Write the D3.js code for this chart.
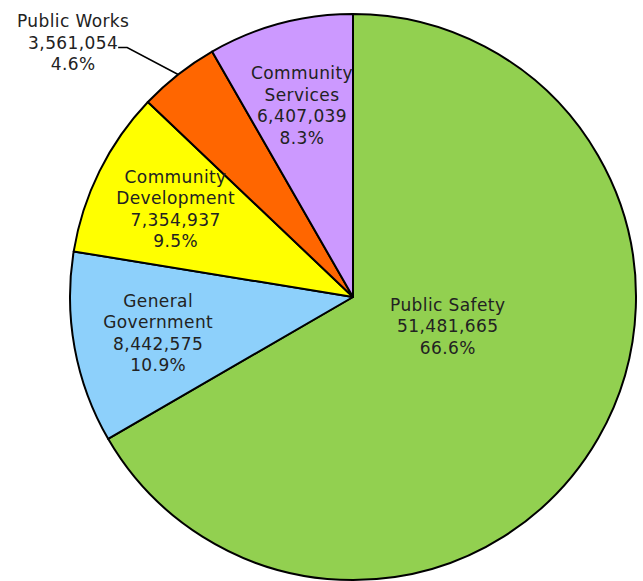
<!DOCTYPE html>
<html>
<head>
<meta charset="utf-8" />
<title>Budget by Department</title>
<script src="https://d3js.org/d3.v7.min.js"></script>
<style>
  body { margin: 0; background: #fff; }
  text { font-family: "DejaVu Sans", sans-serif; font-size: 17px; letter-spacing: 0.4px; fill: #222; }
</style>
</head>
<body>
<div id="chart"></div>
<script>
  // data, clockwise from 12 o'clock
  var departments = ["Public Safety", "General Government", "Community Development", "Public Works", "Community Services"];
  var labelLines = [["Public Safety"], ["General", "Government"], ["Community", "Development"], ["Public Works"], ["Community", "Services"]];
  var amounts = [51481665, 8442575, 7354937, 3561054, 6407039];
  var colors = ["#92d050", "#8dd0fb", "#ffff00", "#ff6600", "#cc99ff"];

  var width = 643, height = 581;
  var cx = 353, cy = 297, radius = 283;
  var lineH = 21.5;

  var svg = d3.select("#chart").append("svg")
    .attr("width", width)
    .attr("height", height);

  var g = svg.append("g").attr("transform", "translate(" + cx + "," + cy + ")");

  var total = d3.sum(amounts);
  var rows = departments.map(function (d, i) {
    return { name: d, lines: labelLines[i], value: amounts[i], color: colors[i] };
  });

  var pie = d3.pie().sort(null).value(function (d) { return d.value; });
  var arc = d3.arc().innerRadius(0).outerRadius(radius);
  var arcs = pie(rows);

  g.selectAll("path.slice")
    .data(arcs)
    .enter()
    .append("path")
    .attr("class", "slice")
    .attr("d", arc)
    .attr("fill", function (d) { return d.data.color; })
    .attr("stroke", "#000")
    .attr("stroke-width", 2)
    .attr("stroke-linejoin", "round");

  var fmt = d3.format(",");
  function pct(v) { return (v / total * 100).toFixed(1) + "%"; }

  // where the label block sits: polar (angle in degrees, fraction of radius)
  function polar(angleDeg, frac) {
    var a = angleDeg * Math.PI / 180;
    return [Math.sin(a) * radius * frac, -Math.cos(a) * radius * frac];
  }
  function midDeg(d) { return (d.startAngle + d.endAngle) / 2 * 180 / Math.PI; }

  function drawBlock(lines, x, y) {
    var t = g.append("text").attr("text-anchor", "middle");
    var top = y - (lines.length - 1) / 2 * lineH;
    lines.forEach(function (s, k) {
      t.append("tspan")
        .attr("x", x)
        .attr("y", top + k * lineH)
        .attr("dy", "0.36em")
        .text(s);
    });
  }

  arcs.forEach(function (d, i) {
    var lines = d.data.lines.concat([fmt(d.data.value), pct(d.data.value)]);
    var share = d.data.value / total;
    if (share > 0.5) {
      // big slice: Excel puts it nearer the centre
      var p = polar(107, 0.35);
      drawBlock(lines, p[0], p[1]);
    } else if (share < 0.06) {
      // small slice: outside label with leader line
      var edge = polar(midDeg(d), 1);
      var elbow = [edge[0] - 51, edge[1] - 27];
      var end = [elbow[0] - 9, elbow[1]];
      g.append("path")
        .attr("d", "M" + edge + "L" + elbow + "L" + end)
        .attr("fill", "none")
        .attr("stroke", "#000")
        .attr("stroke-width", 1.5);
      drawBlock(lines, end[0] - 45, end[1] - 5);
    } else {
      var q = polar(midDeg(d), 0.7);
      drawBlock(lines, q[0], q[1]);
    }
  });
</script>
</body>
</html>
